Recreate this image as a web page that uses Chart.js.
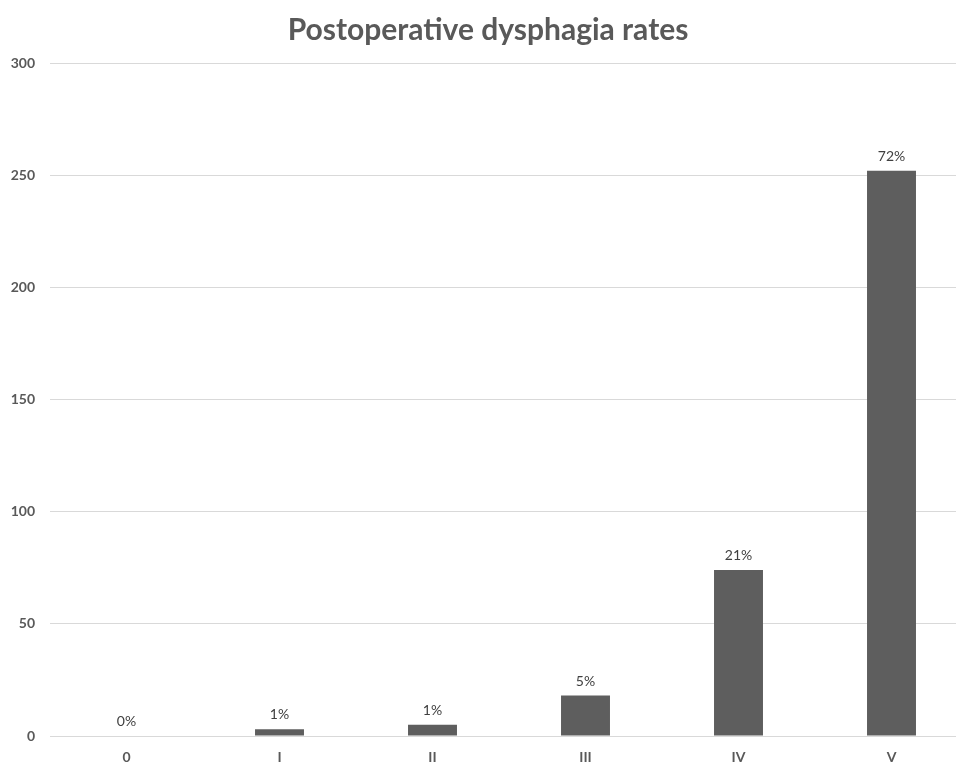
<!DOCTYPE html>
<html>
<head>
<meta charset="utf-8">
<script src="https://cdn.jsdelivr.net/npm/chart.js@4.4.1/dist/chart.umd.min.js"></script>
<style>
  html, body { margin: 0; padding: 0; background: #ffffff; overflow: hidden; }
  #wrap { width: 968px; height: 762px; overflow: hidden; position: relative; }
  #box { width: 968px; height: 780px; position: absolute; left: 0; top: 0; }
</style>
</head>
<body>
<div id="wrap"><div id="box"><canvas id="chart"></canvas></div></div>
<script>
// Dysphagia grades (categories) and number of patients per grade
const grades = ['0', 'I', 'II', 'III', 'IV', 'V'];
const patients = [0, 3, 5, 18, 74, 252];
const yTicks = [0, 50, 100, 150, 200, 250, 300];

const total = patients.reduce((a, b) => a + b, 0);

// Percentage of all patients written above each bar
const percentLabels = {
  id: 'percentLabels',
  afterDatasetsDraw(chart) {
    const ctx = chart.ctx;
    const meta = chart.getDatasetMeta(0);
    ctx.save();
    ctx.font = '14px Lato';
    ctx.fillStyle = '#404040';
    ctx.textAlign = 'center';
    ctx.textBaseline = 'alphabetic';
    meta.data.forEach((bar, i) => {
      const pct = Math.round(patients[i] / total * 100) + '%';
      ctx.fillText(pct, bar.x, bar.y - 10);
    });
    ctx.restore();
  }
};

new Chart(document.getElementById('chart'), {
  type: 'bar',
  data: {
    labels: grades,
    datasets: [{
      data: patients,
      backgroundColor: '#5e5e5e',
      borderWidth: 0,
      categoryPercentage: 1.0,
      barPercentage: 0.32
    }]
  },
  options: {
    responsive: true,
    maintainAspectRatio: false,
    animation: false,
    layout: { padding: { left: 8, right: 0, top: 0, bottom: 0 } },
    plugins: {
      legend: { display: false },
      tooltip: { enabled: false },
      title: {
        display: true,
        text: 'Postoperative dysphagia rates',
        color: '#595959',
        font: { family: 'Lato', size: 30, weight: 'bold', lineHeight: 1.2 },
        padding: { top: 12, bottom: 15 }
      }
    },
    scales: {
      x: {
        grid: { display: false, drawTicks: false },
        border: { display: false },
        ticks: {
          color: '#595959',
          font: { family: 'Lato', size: 14, weight: 'bold' },
          padding: 13
        },
        afterFit(scale) { scale.height = 44; }
      },
      y: {
        min: 0,
        max: 300,
        afterBuildTicks(scale) { scale.ticks = yTicks.map(v => ({ value: v })); },
        grid: { color: '#d9d9d9', lineWidth: 1, drawTicks: false },
        border: { display: false },
        ticks: {
          color: '#595959',
          font: { family: 'Lato', size: 14, weight: 'bold' },
          padding: 15
        },
        afterFit(scale) { scale.width = 42; }
      }
    }
  },
  plugins: [percentLabels]
});
</script>
</body>
</html>
